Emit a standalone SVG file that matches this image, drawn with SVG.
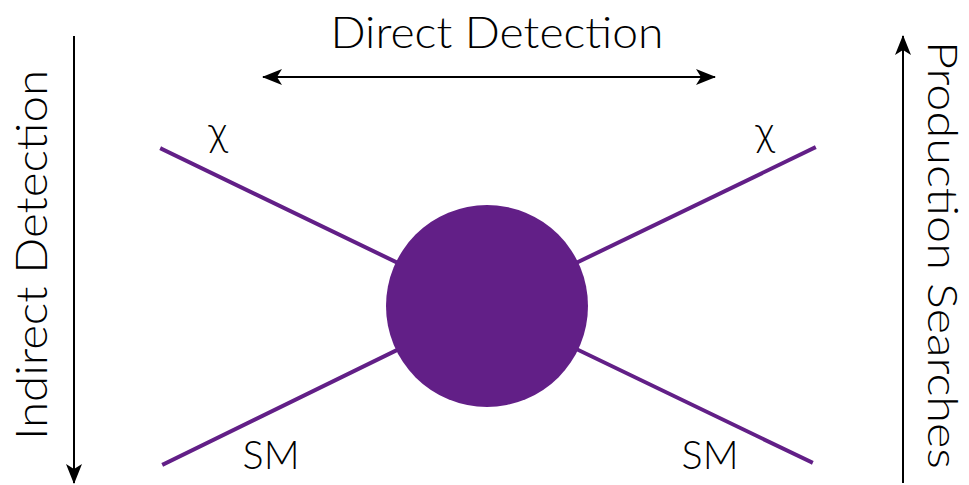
<svg xmlns="http://www.w3.org/2000/svg" width="969" height="485" viewBox="0 0 969 485">
  <defs>
    <marker id="head" viewBox="0 0 20 16" refX="19" refY="8" markerWidth="20" markerHeight="16" markerUnits="userSpaceOnUse" orient="auto-start-reverse">
      <path d="M0,0 L20,8 L0,16 L5,8 Z" fill="#000"/>
    </marker>
    <style>
      .lbl { font-family: "Lato", "Open Sans", "Liberation Sans", sans-serif; font-weight: 300; fill: #000; }
      .axis { stroke: #000; stroke-width: 2; fill: none; }
      .leg { stroke: #621f87; stroke-width: 4; stroke-linecap: square; }
    </style>
  </defs>
  <rect width="969" height="485" fill="#fff"/>

  <g id="connectors">
    <line class="axis" x1="74" y1="36" x2="74" y2="483" marker-end="url(#head)"/>
    <line class="axis" x1="903" y1="483" x2="903" y2="36" marker-end="url(#head)"/>
    <line class="axis" x1="263" y1="77" x2="715" y2="77" marker-start="url(#head)" marker-end="url(#head)"/>
    <line class="leg" x1="162" y1="149" x2="487" y2="306"/>
    <line class="leg" x1="814" y1="148" x2="487" y2="306"/>
    <line class="leg" x1="164" y1="464" x2="487" y2="306"/>
    <line class="leg" x1="811" y1="462" x2="487" y2="306"/>
  </g>

  <g id="vertex">
    <circle cx="487" cy="306" r="101" fill="#621f87"/>
  </g>

  <g id="labels">
    <text class="lbl" x="497" y="48" font-size="44" text-anchor="middle" textLength="333" lengthAdjust="spacingAndGlyphs">Direct Detection</text>
    <text class="lbl" font-size="44" text-anchor="middle" textLength="370" lengthAdjust="spacingAndGlyphs" transform="translate(47,255) rotate(-90)">Indirect Detection</text>
    <text class="lbl" font-size="42" text-anchor="middle" textLength="428" lengthAdjust="spacingAndGlyphs" transform="translate(928,255) rotate(90)">Production Searches</text>
    <text class="lbl" x="218" y="146" font-size="42" text-anchor="middle">χ</text>
    <text class="lbl" x="765" y="146" font-size="42" text-anchor="middle">χ</text>
    <text class="lbl" x="271" y="469" font-size="40" text-anchor="middle" textLength="57" lengthAdjust="spacingAndGlyphs">SM</text>
    <text class="lbl" x="710" y="469" font-size="40" text-anchor="middle" textLength="57" lengthAdjust="spacingAndGlyphs">SM</text>
  </g>
</svg>
